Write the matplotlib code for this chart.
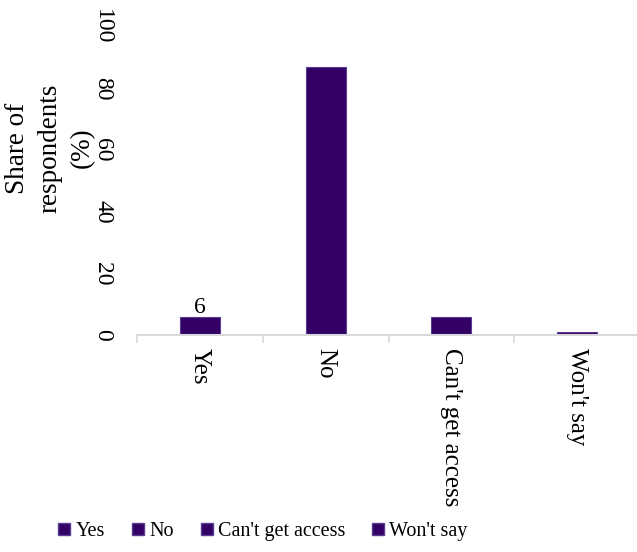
import matplotlib
matplotlib.use("Agg")
import matplotlib.pyplot as plt
from matplotlib.lines import Line2D

# survey answers and share of respondents (%)
categories = ["Yes", "No", "Can't get access", "Won't say"]
shares = [6, 87, 6, 1]
labelled = {0: "6"}

bar_color = "#330066"
edge_color = "#5b3d8f"

plt.rcParams["font.family"] = ["Liberation Serif", "DejaVu Serif"]

fig = plt.figure(figsize=(6.37, 5.52), dpi=100)
ax = fig.add_axes([137 / 637, 217 / 552, 503 / 637, 308 / 552])

x = list(range(len(categories)))
bars = ax.bar(x, shares, width=0.32, color=bar_color, edgecolor=edge_color, linewidth=0.8)
for i, txt in labelled.items():
    ax.annotate(txt, (x[i], shares[i]), xytext=(0, -1), textcoords="offset points",
                ha="center", va="bottom", fontsize=17)

ax.set_xlim(-0.5, len(categories) - 0.5)
ax.set_ylim(0, 100)
ax.set_yticks(range(0, 101, 20))
ax.tick_params(axis="y", length=0, labelsize=17, labelrotation=-90, pad=17)
for lbl in ax.get_yticklabels():
    lbl.set_verticalalignment("center")
ax.set_xticks(x)
ax.set_xticklabels(categories, rotation=-90, va="top", ha="center", fontsize=18)
ax.tick_params(axis="x", length=0, pad=9)

# category separators on the baseline
ax.set_xticks([i + 0.5 for i in x[:-1]] + [-0.5], minor=True)
ax.tick_params(axis="x", which="minor", length=6, color="#d9d9d9", width=1.2)

for side in ["top", "right", "left"]:
    ax.spines[side].set_visible(False)
ax.spines["bottom"].set_color("#d9d9d9")
ax.spines["bottom"].set_linewidth(1.5)

fig.text(50 / 637, 1 - 148 / 552, "Share of\nrespondents\n(%)", rotation=90,
         ha="center", va="center", multialignment="center", fontsize=19.5,
         linespacing=1.38)

handles = [Line2D([], [], marker="s", linestyle="none", markersize=9,
                  markerfacecolor=bar_color, markeredgecolor=edge_color)
           for _ in categories]
fig.legend(handles, categories, loc="center", bbox_to_anchor=(262 / 637, 1 - 531 / 552),
           ncol=4, frameon=False, fontsize=14.5, handletextpad=0.15, columnspacing=1.25,
           handlelength=0.8)

fig.savefig("out.png", dpi=100)
